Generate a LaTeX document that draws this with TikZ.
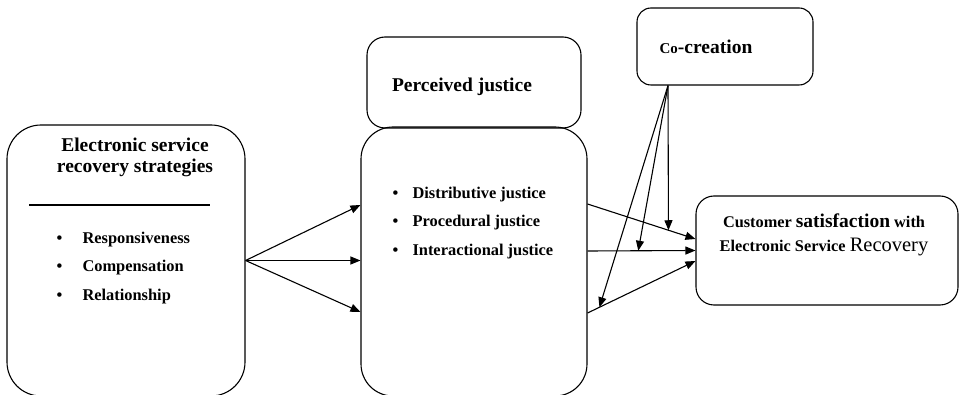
\documentclass[tikz,border=0pt]{standalone}
\usepackage{fontspec}
\setmainfont{Liberation Serif}
\usetikzlibrary{arrows.meta,positioning}

\begin{document}
\begin{tikzpicture}[
  x=1pt, y=-1pt,
  box/.style={draw=black, line width=1.1pt, rounded corners=#1, inner sep=0pt},
  box/.default=18pt,
  listtext/.style={anchor=west, align=left, font=\fontsize{16.4}{28.5}\selectfont\bfseries},
  arrow/.style={-{Triangle[length=10pt,width=8pt]}, line width=1.1pt}
]
  \path[use as bounding box, fill=white] (0,0) rectangle (962,395);
  \node[box=34pt, minimum width=238pt, minimum height=271pt] (strat) at (126,260.5) {};
  \node[box=18pt, minimum width=214pt, minimum height=91pt] (justicehead) at (474,82.5) {};
  \node[box=32pt, minimum width=226pt, minimum height=269pt] (justice) at (474,261.5) {};
  \node[box=14pt, minimum width=176pt, minimum height=77pt] (cocreation) at (725,46.5) {};
  \node[box=18pt, minimum width=262pt, minimum height=109pt] (satisf) at (827,250.5) {};

  \node[align=center, font=\fontsize{19.5}{21}\selectfont\bfseries] (strattitle) at (135,157.5)
    {Electronic service\\recovery strategies};
  \draw[line width=1.1pt] (29,205) -- (210,205);
  \node[listtext] (stratlist) at (53,268)
    {\makebox[26pt][l]{\textbullet}Responsiveness\\
     \makebox[26pt][l]{\textbullet}Compensation\\
     \makebox[26pt][l]{\textbullet}Relationship};
  \node[font=\fontsize{19.5}{22}\selectfont\bfseries] (justicetitle) at (462,87) {Perceived justice};
  \node[listtext] (justicelist) at (389,223)
    {\makebox[20pt][l]{\textbullet}Distributive justice\\
     \makebox[20pt][l]{\textbullet}Procedural justice\\
     \makebox[20pt][l]{\textbullet}Interactional justice};
  \node[font=\bfseries] (cotitle) at (706,47)
    {{\fontsize{15}{18}\selectfont Co}{\fontsize{19.5}{22}\selectfont -creation}};
  \node[align=center, font=\fontsize{16.3}{24}\selectfont\bfseries] (satistitle) at (824,235)
    {Customer {\fontsize{19.5}{24}\selectfont satisfaction} with\\
     Electronic Service {\mdseries\fontsize{20.5}{24}\selectfont Recovery}};

  \draw[arrow] (strat.east) -- ([yshift=56.5pt]justice.west);
  \draw[arrow] (strat.east) -- ([yshift=1pt]justice.west);
  \draw[arrow] (strat.east) -- ([yshift=-50.5pt]justice.west);
  \draw[arrow] ([yshift=57.5pt]justice.east) -- coordinate[pos=0.75] (hitone) ([yshift=11.5pt]satisf.west);
  \draw[arrow] ([yshift=10.5pt]justice.east) -- coordinate[pos=0.47] (hittwo) ([yshift=0pt]satisf.west);
  \draw[arrow] ([yshift=-51.5pt]justice.east) -- coordinate[pos=0.11] (hitthree) ([yshift=-10.5pt]satisf.west);
  \coordinate (cotail) at ([xshift=-57pt]cocreation.south);
  \draw[arrow] (cotail) -- (hitone);
  \draw[arrow] (cotail) -- (hittwo);
  \draw[arrow] (cotail) -- (hitthree);
\end{tikzpicture}
\end{document}
